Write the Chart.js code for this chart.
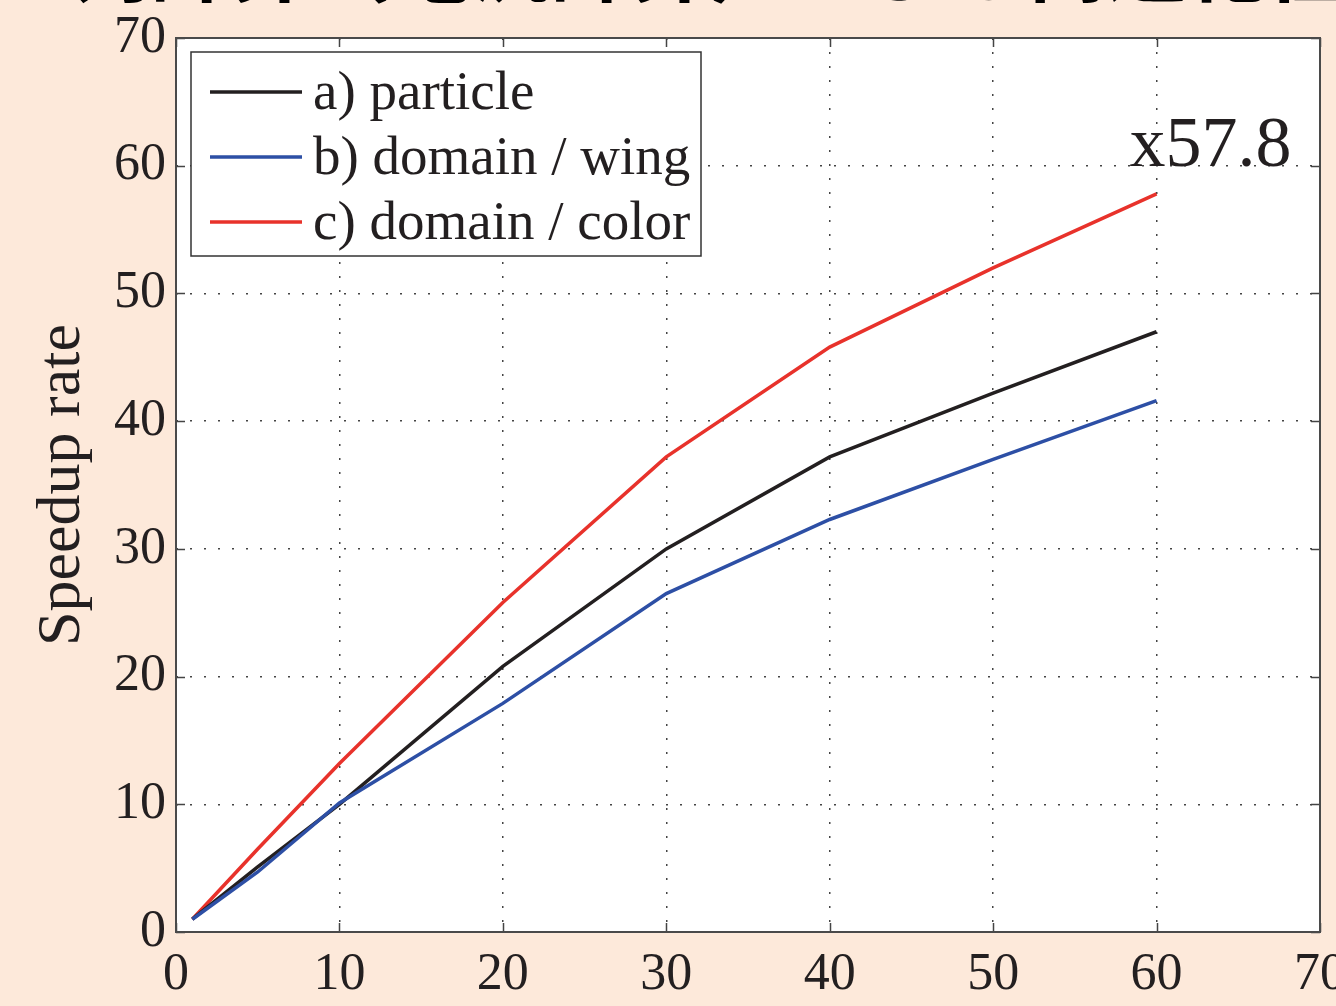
<!DOCTYPE html>
<html><head><meta charset="utf-8">
<script src="https://cdn.jsdelivr.net/npm/chart.js@4.4.0/dist/chart.umd.min.js"></script>
<style>
html,body{margin:0;padding:0;background:#fde9da;overflow:hidden;width:1336px;height:1006px;}
#wrap{position:absolute;left:0;top:0;width:1380px;height:1006px;}
#title{position:absolute;left:-10px;top:-80px;white-space:nowrap;font-family:"Noto Sans CJK JP";font-weight:700;font-size:80px;line-height:80px;color:#000;}
</style></head><body>
<div id="wrap"><canvas id="c"></canvas></div>
<div id="title">並列計算（電流計算）による高速化性能</div>
<script>
const processCounts = [1, 5, 10, 20, 30, 40, 50, 60];
const particle     = [1, 5.1, 10.0, 20.8, 30.0, 37.2, 42.2, 47.0];
const domainWing   = [1, 4.7, 10.1, 17.9, 26.5, 32.3, 37.0, 41.6];
const domainColor  = [1, 6.5, 13.2, 25.8, 37.2, 45.8, 52.0, 57.8];
const seriesLabels = ['a) particle', 'b) domain / wing', 'c) domain / color'];
const xTickValues  = [0, 10, 20, 30, 40, 50, 60, 70];
const yTickValues  = [0, 10, 20, 30, 40, 50, 60, 70];
const yAxisTitle   = 'Speedup rate';
const peakLabel    = 'x57.8';
const peakPoint    = {x: 60, y: 57.8};

const SERIF = '"Liberation Serif", "Times New Roman", serif';
const TXT = '#231f20';
const colors = ['#231f20', '#2d4fa5', '#e8322b'];
const seriesValues = [particle, domainWing, domainColor];
const orders = [1, 0, 2];

const datasets = seriesValues.map((vals, i) => ({
  label: seriesLabels[i],
  data: processCounts.map((x, j) => ({x: x, y: vals[j]})),
  borderColor: colors[i],
  backgroundColor: colors[i],
  borderWidth: 3.5,
  pointRadius: 0,
  tension: 0,
  fill: false,
  order: orders[i]
}));

const framePlugin = {
  id: 'frame',
  beforeDraw(chart) {
    const {ctx, chartArea: a} = chart;
    ctx.save();
    ctx.fillStyle = '#fff';
    ctx.fillRect(a.left, a.top, a.right - a.left, a.bottom - a.top);
    ctx.restore();
  },
  afterDatasetsDraw(chart) {
    const {ctx, chartArea: a, scales: {x, y}} = chart;
    ctx.save();
    ctx.strokeStyle = '#444';
    ctx.lineWidth = 1.5;
    const tl = 9;
    ctx.beginPath();
    xTickValues.forEach(v => {
      const px = Math.round(x.getPixelForValue(v)) + 0.5;
      ctx.moveTo(px, a.bottom); ctx.lineTo(px, a.bottom - tl);
      ctx.moveTo(px, a.top); ctx.lineTo(px, a.top + tl);
    });
    yTickValues.forEach(v => {
      const py = Math.round(y.getPixelForValue(v)) + 0.5;
      ctx.moveTo(a.left, py); ctx.lineTo(a.left + tl, py);
      ctx.moveTo(a.right, py); ctx.lineTo(a.right - tl, py);
    });
    ctx.stroke();
    ctx.lineWidth = 2;
    ctx.strokeStyle = '#4a4a4a';
    ctx.strokeRect(a.left, a.top, a.right - a.left, a.bottom - a.top);

    const lx = a.left + 15, ly = a.top + 14, lw = 510, lh = 204;
    ctx.fillStyle = '#fff';
    ctx.fillRect(lx, ly, lw, lh);
    ctx.lineWidth = 1.5;
    ctx.strokeStyle = '#333';
    ctx.strokeRect(lx, ly, lw, lh);
    ctx.font = '55px ' + SERIF;
    ctx.textAlign = 'left';
    ctx.textBaseline = 'alphabetic';
    chart.data.datasets.forEach((ds, i) => {
      const yy = ly + 40 + i * 65;
      ctx.strokeStyle = ds.borderColor;
      ctx.lineWidth = 3.5;
      ctx.beginPath();
      ctx.moveTo(lx + 19, yy); ctx.lineTo(lx + 111, yy);
      ctx.stroke();
      ctx.fillStyle = TXT;
      ctx.fillText(ds.label, lx + 122, yy + 17);
    });

    const px = x.getPixelForValue(peakPoint.x);
    const py = y.getPixelForValue(peakPoint.y);
    ctx.font = '72px ' + SERIF;
    ctx.fillStyle = TXT;
    ctx.fillText(peakLabel, px - 27, py - 28);
    ctx.restore();
  }
};

const tickFont = {family: SERIF, size: 52};

new Chart(document.getElementById('c'), {
  type: 'line',
  data: {datasets: datasets},
  options: {
    responsive: true,
    maintainAspectRatio: false,
    animation: false,
    devicePixelRatio: 1,
    layout: {padding: {top: 38, right: 60, left: 0, bottom: 0}},
    plugins: {legend: {display: false}, tooltip: {enabled: false}},
    scales: {
      x: {
        type: 'linear', min: 0, max: 70,
        afterBuildTicks: s => { s.ticks = xTickValues.map(v => ({value: v})); },
        afterFit: s => { s.height = 74; s.paddingLeft = 0; s.paddingRight = 0; },
        ticks: {font: tickFont, color: TXT, padding: 12, maxRotation: 0, autoSkip: false},
        grid: {color: '#444', lineWidth: 1.5, drawTicks: false, borderDash: [2, 12]},
        border: {display: false, dash: [2, 12]}
      },
      y: {
        type: 'linear', min: 0, max: 70,
        afterBuildTicks: s => { s.ticks = yTickValues.map(v => ({value: v})); },
        afterFit: s => { s.width = 176; s.paddingTop = 0; s.paddingBottom = 0; },
        ticks: {font: tickFont, color: TXT, padding: 10, autoSkip: false},
        grid: {color: '#444', lineWidth: 1.5, drawTicks: false, borderDash: [2, 12]},
        border: {display: false, dash: [2, 12]},
        title: {display: true, text: yAxisTitle, color: TXT, font: {family: SERIF, size: 62}, padding: {top: 26, bottom: 0}}
      }
    }
  },
  plugins: [framePlugin]
});
</script>
</body></html>
